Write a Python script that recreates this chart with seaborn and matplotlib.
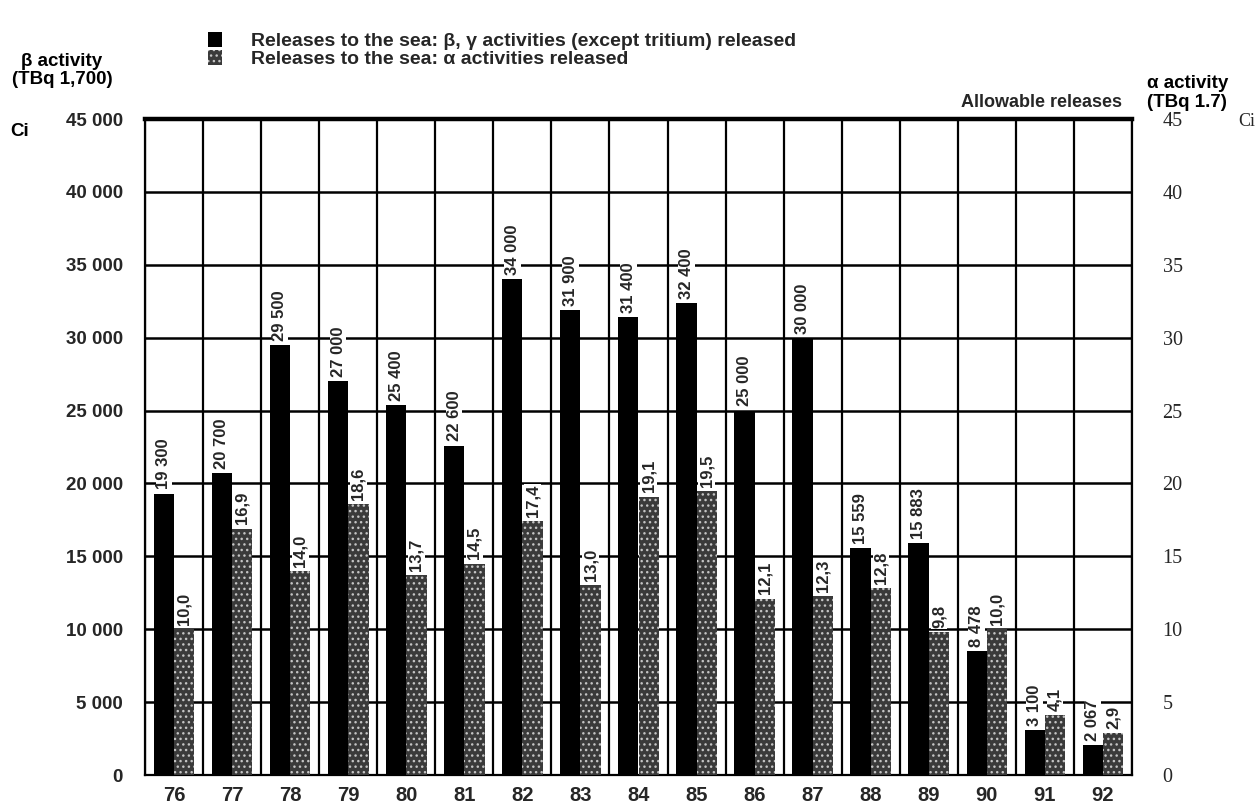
import numpy as np
import pandas as pd
import matplotlib.pyplot as plt
import seaborn as sns

# values (Ci)
years = ["76", "77", "78", "79", "80", "81", "82", "83", "84",
         "85", "86", "87", "88", "89", "90", "91", "92"]
beta_ci = [19300, 20700, 29500, 27000, 25400, 22600, 34000, 31900, 31400,
           32400, 25000, 30000, 15559, 15883, 8478, 3100, 2067]
alpha_ci = [10.0, 16.9, 14.0, 18.6, 13.7, 14.5, 17.4, 13.0, 19.1,
            19.5, 12.1, 12.3, 12.8, 9.8, 10.0, 4.1, 2.9]
series_names = [
    "Releases to the sea: \u03b2, \u03b3 activities (except tritium) released",
    "Releases to the sea: \u03b1 activities released",
]
left_ticks = list(range(0, 45001, 5000))
right_ticks = list(range(0, 46, 5))

W, H = 1257, 805


def fx(x):
    return x / W


def fy(y):
    return 1 - y / H


sns.set_theme(style="white")
plt.rcParams["font.family"] = ["Liberation Sans", "DejaVu Sans"]
plt.rcParams["hatch.color"] = "#c4c4c4"
plt.rcParams["hatch.linewidth"] = 1.0
serif = ["Liberation Serif", "DejaVu Serif"]

# alpha axis (right) is 1/1000 of the beta axis (left): share one scale
df = pd.DataFrame({
    "year": years * 2,
    "series": [series_names[0]] * len(years) + [series_names[1]] * len(years),
    "value": beta_ci + [a * 1000 for a in alpha_ci],
})

fig = plt.figure(figsize=(12.57, 8.05), dpi=100)
ax = fig.add_axes([fx(145), fy(775), fx(1132) - fx(145), fy(119) - fy(775)])

sns.barplot(data=df, x="year", y="value", hue="series",
            palette=["black", "#3a3a3a"], width=0.7, saturation=1,
            linewidth=0, legend=False, ax=ax, zorder=3)

for bar in ax.containers[1]:
    bar.set_hatch("...")
    bar.set_edgecolor("#c4c4c4")
    bar.set_linewidth(0)

lab_font = dict(fontsize=12, fontweight="bold", rotation=90, padding=3,
                bbox=dict(fc="white", ec="none", pad=0.6))
ax.bar_label(ax.containers[0],
             labels=[f"{v:,}".replace(",", " ") for v in beta_ci], **lab_font)
ax.bar_label(ax.containers[1],
             labels=[f"{v:.1f}".replace(".", ",") for v in alpha_ci], **lab_font)

ax.set_xlim(-0.5, len(years) - 0.5)
ax.set_ylim(0, 45000)
ax.set_yticks(left_ticks)
ax.set_yticklabels([f"{t:,}".replace(",", " ") for t in left_ticks],
                   fontweight="bold", fontsize=13.5)
ax.set_xticks(np.arange(-0.5, len(years), 1), minor=True)
ax.tick_params(axis="y", length=0, pad=16)
ax.tick_params(axis="x", which="both", length=0, pad=8)
for t in ax.get_xticklabels():
    t.set_fontweight("bold")
    t.set_fontsize(14.5)
ax.set_xlabel("")
ax.set_ylabel("")
ax.yaxis.grid(True, color="black", linewidth=1.8)
ax.xaxis.grid(True, which="minor", color="black", linewidth=1.6)
ax.xaxis.grid(False, which="major")
ax.set_axisbelow(True)
for side, sp in ax.spines.items():
    sp.set_color("black")
    sp.set_linewidth(1.6)
ax.spines["top"].set_linewidth(3.2)

ax2 = ax.twinx()
ax2.set_ylim(0, 45)
ax2.set_yticks(right_ticks)
ax2.set_yticklabels([str(t) for t in right_ticks], family=serif, fontsize=14.5)
ax2.tick_params(axis="y", length=0, pad=22)
ax2.grid(False)
for sp in ax2.spines.values():
    sp.set_visible(False)

bold = dict(fontweight="bold", fontsize=13.5, color="black")
fig.text(fx(62), fy(62), "\u03b2 activity", ha="center", va="center", **bold)
fig.text(fx(62), fy(80), "(TBq 1,700)", ha="center", va="center", **bold)
fig.text(fx(10), fy(132), "Ci", ha="left", va="center", **bold)
fig.text(fx(1147), fy(84), "\u03b1 activity", ha="left", va="center", **bold)
fig.text(fx(1147), fy(102), "(TBq 1.7)", ha="left", va="center", **bold)
fig.text(fx(1238), fy(121), "Ci", ha="left", va="center", fontsize=13,
         family=serif)
fig.text(fx(1122), fy(102), "Allowable releases", ha="right", va="center",
         fontweight="bold", fontsize=13)

fig.legend(handles=[ax.containers[0][0], ax.containers[1][0]],
           labels=series_names, loc="upper left",
           bbox_to_anchor=(fx(190), fy(15)), frameon=False,
           handlelength=0.75, handleheight=0.75, handletextpad=1.5,
           labelspacing=0.0, prop=dict(weight="bold", size=14))

fig.savefig("out.png", dpi=100)
